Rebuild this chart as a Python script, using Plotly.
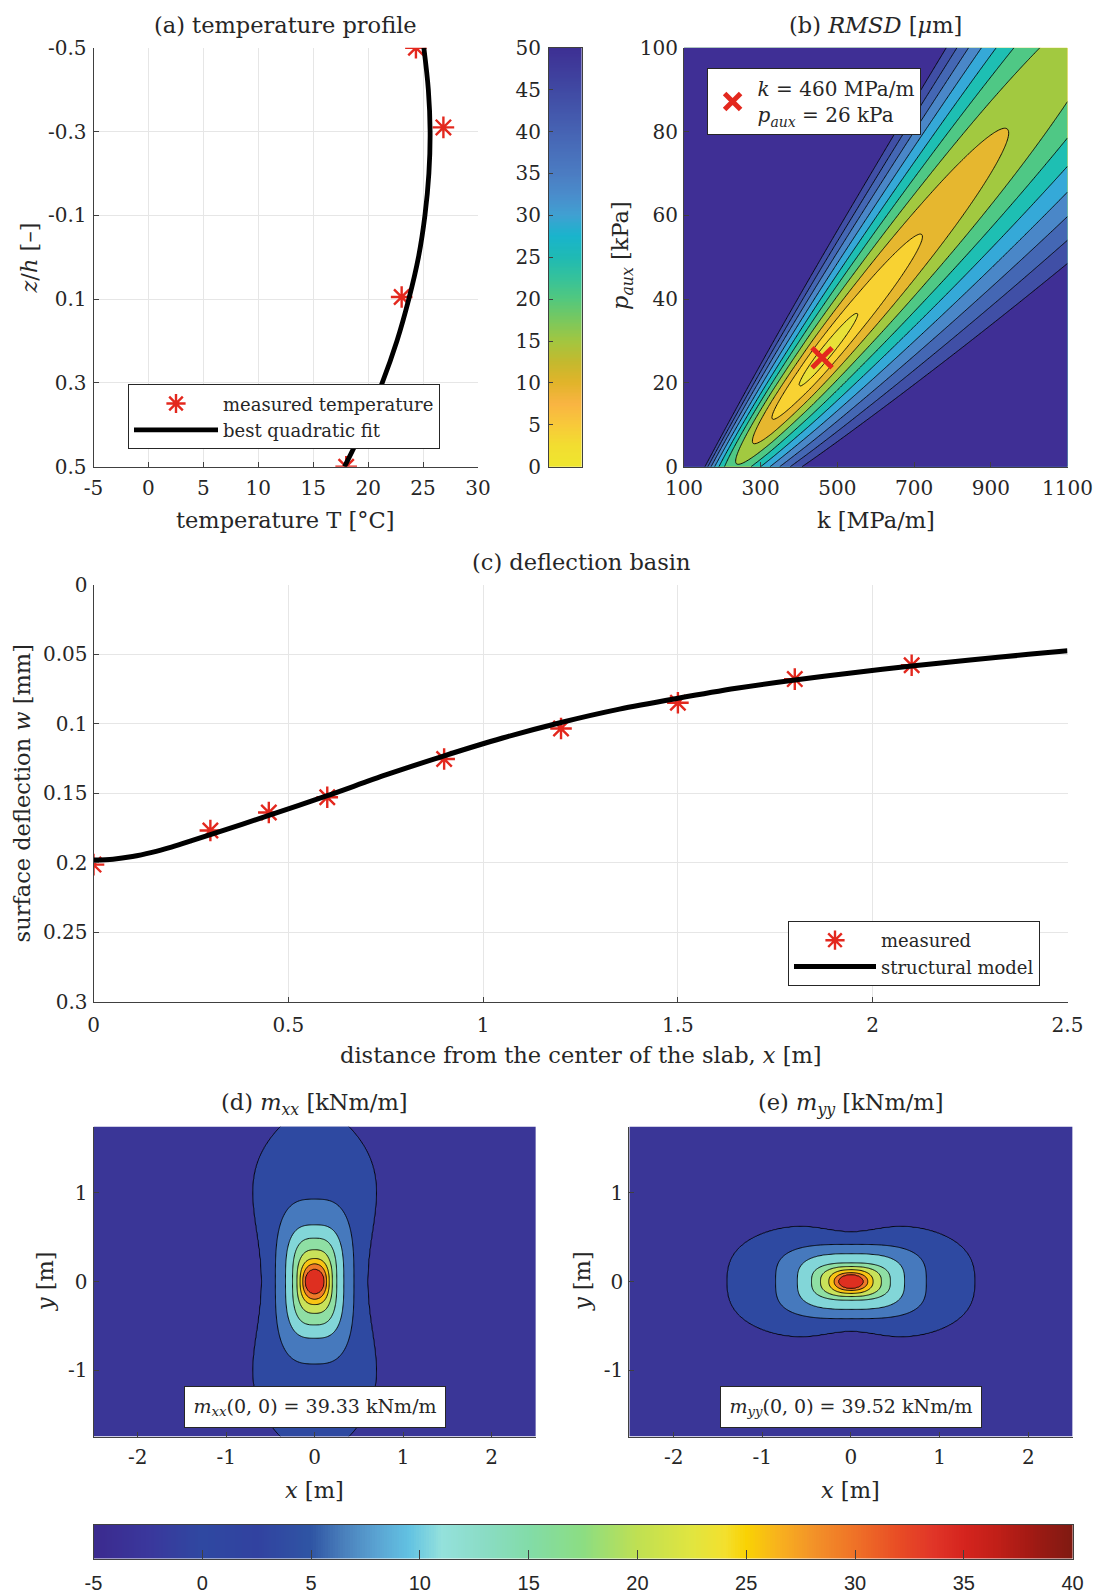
import numpy as np
import plotly.graph_objects as go

W, H = 1094, 1594
def px(x): return x / W
def py(y): return 1 - y / H

# ---------------- data ----------------
# (a) temperature profile
temp_meas_T = [24.35, 26.85, 23.05, 18.0]
temp_meas_z = [-0.5, -0.31, 0.095, 0.5]
temp_fit_z = [-0.5, -0.4, -0.3, -0.2, -0.1, 0.0, 0.1, 0.2, 0.3, 0.4, 0.5]
temp_fit_T = [25.07, 25.48, 25.64, 25.53, 25.17, 24.58, 23.70, 22.62, 21.28, 19.70, 17.85]

# (b) RMSD landscape, described by the geometry
rmsd_focus_k, rmsd_focus_p = -50.0, -30.0        # point the contour rays radiate from
rmsd_valley_slope = 0.11                         # slope of the valley ray
rmsd_best_k, rmsd_best_p = 460.0, 26.0
rmsd_long_s = [-0.441, -0.297, -0.125, 0.0, 0.1675, 0.4146, 0.6703]   # log-distance along valley
rmsd_long_v = [14.87, 9.80, 4.58, 0.0, 4.58, 9.80, 14.87]
rmsd_trans_left, rmsd_trans_right = 1060.0, 1120.0
rmsd_floor = 2.0
rmsd_lev_start, rmsd_lev_end, rmsd_lev_step = 5, 50, 5

# (c) deflection basin
defl_meas_x = [0, 0.3, 0.45, 0.6, 0.9, 1.2, 1.5, 1.8, 2.1]
defl_meas_w = [0.2015, 0.177, 0.164, 0.153, 0.1255, 0.1035, 0.085, 0.068, 0.058]
defl_model_x = [0, 0.05, 0.1, 0.15, 0.2, 0.25, 0.3, 0.45, 0.6, 0.75, 0.9, 1.05, 1.2, 1.35,
                1.5, 1.65, 1.8, 1.95, 2.1, 2.25, 2.4, 2.5]
defl_model_w = [0.1982, 0.1976, 0.1957, 0.1927, 0.1889, 0.1845, 0.1799, 0.1661, 0.1519, 0.1370,
                0.1232, 0.1104, 0.0992, 0.0896, 0.0818, 0.0746, 0.0686, 0.0634, 0.0586,
                0.0543, 0.0502, 0.0476]

# (d), (e) bending moments: contour levels and semi-axes of each contour
mom_levels = [0, 5, 10, 15, 20, 25, 30, 35]
mxx_semi_x = [0.60, 0.445, 0.33, 0.25, 0.20, 0.165, 0.135, 0.11]
mxx_semi_y = [2.0, 0.93, 0.64, 0.49, 0.36, 0.26, 0.20, 0.14]
mxx_shape_n = [2.0, 3.0, 3.0, 2.9, 2.6, 2.4, 2.2, 2.0]
mxx_bulge = 0.456
mxx_peak = 39.33
myy_semi_x = [1.395, 0.85, 0.605, 0.445, 0.345, 0.25, 0.19, 0.14]
myy_semi_y = [0.56, 0.42, 0.315, 0.21, 0.17, 0.135, 0.10, 0.08]
myy_shape_n = [2.6, 3.2, 3.0, 2.8, 2.5, 2.3, 2.2, 2.0]
myy_bulge = 0.19
myy_peak = 39.52

# tick labels
a_xticks = [-5, 0, 5, 10, 15, 20, 25, 30]
a_yticks = [-0.5, -0.3, -0.1, 0.1, 0.3, 0.5]
cb1_ticks = [0, 5, 10, 15, 20, 25, 30, 35, 40, 45, 50]
b_xticks = [100, 300, 500, 700, 900, 1100]
b_yticks = [0, 20, 40, 60, 80, 100]
c_xticks = [0, 0.5, 1, 1.5, 2, 2.5]
c_yticks = [0, 0.05, 0.1, 0.15, 0.2, 0.25, 0.3]
de_xticks = [-2, -1, 0, 1, 2]
de_yticks = [-1, 0, 1]
cb2_ticks = [-5, 0, 5, 10, 15, 20, 25, 30, 35, 40]

# ---------------- styles ----------------
FONT = "DejaVu Serif"
SANS = "Liberation Sans"
TXT = "#262626"
AXC = "#404040"
GRID = "#e6e6e6"
RED = "#e3281e"

cmap_ab = [(0, "#efe62f"), (2.5, "#f2dd30"), (5, "#f8c93a"), (7.5, "#f9b442"), (10, "#e1b42a"),
           (12.5, "#c4b92e"), (15, "#a2c640"), (17.5, "#79c85e"), (20, "#52c87e"),
           (22.5, "#35c29b"), (25, "#1fbab4"), (27.5, "#19b4cc"), (30, "#40a0d2"),
           (32.5, "#4a8ccb"), (35, "#4b7cc2"), (40, "#4663b3"), (45, "#4049a3"), (50, "#3d2f93")]
cmap_de = [(-5, "#3b2a8e"), (-2.5, "#3a379c"), (0, "#2f48a1"), (2.5, "#3142a0"), (5, "#2f55a4"),
           (6.5, "#4a80bc"), (8, "#5aa3d2"), (9.5, "#62c2e2"), (11, "#94e1dc"), (13, "#8adcc4"),
           (15, "#82dca8"), (17.5, "#8cdd82"), (20, "#c0e052"), (22.5, "#e1e53f"), (24, "#f3e02e"),
           (25, "#f9d204"), (26.5, "#f8b11e"), (28, "#f39428"), (30, "#ef7127"), (32, "#e84c25"),
           (33.5, "#e13628"), (35, "#d5241e"), (36.5, "#c11f18"), (38, "#a31a14"), (40, "#7f1a12")]
bands_b = ["#e9e138", "#f8d232", "#e6b72f", "#a2c940", "#4fc885", "#1ebfb3",
           "#35a9d8", "#4a87c8", "#4467b4", "#404fa6", "#3f2f95"]
bands_de = ["#3a3697", "#2e49a1", "#4679bd", "#82d6d8", "#8fdfa4", "#c9e25a",
            "#f9c414", "#ef7a29", "#de2f20"]


def norm_scale(stops):
    lo, hi = stops[0][0], stops[-1][0]
    return [[(v - lo) / (hi - lo), c] for v, c in stops]


def discrete_scale(colors):
    n = len(colors)
    sc = []
    for i, c in enumerate(colors):
        sc.append([i / n, c])
        sc.append([(i + 1) / n, c])
    return sc


def interp_ext(x, xp, fp):
    y = np.interp(x, xp, fp)
    lo = x < xp[0]
    hi = x > xp[-1]
    y[lo] = fp[0] + (x[lo] - xp[0]) * (fp[1] - fp[0]) / (xp[1] - xp[0])
    y[hi] = fp[-1] + (x[hi] - xp[-1]) * (fp[-1] - fp[-2]) / (xp[-1] - xp[-2])
    return y


# ---------------- fields ----------------
k_grid = np.linspace(100, 1100, 251)
p_grid = np.linspace(0, 100, 251)
KK, PP = np.meshgrid(k_grid, p_grid)
dd = (PP - rmsd_focus_p) / (KK - rmsd_focus_k) - rmsd_valley_slope
ss = np.log((KK - rmsd_focus_k) / (rmsd_best_k - rmsd_focus_k))
lg = interp_ext(ss, rmsd_long_s, rmsd_long_v)
tt = np.where(dd > 0, rmsd_trans_left * dd, -rmsd_trans_right * dd)
rmsd = np.round(np.sqrt(tt ** 2 + lg ** 2 + rmsd_floor ** 2), 3)


def nested_field(radii, levels, peak):
    step = levels[1] - levels[0]
    Z = levels[0] - 2.5 * np.clip(radii[0] - 1, 0, 1)
    for i in range(len(levels) - 1):
        hk, hk1 = radii[i], radii[i + 1]
        t = (1 - hk) / np.maximum((1 - hk) + (hk1 - 1), 1e-9)
        Z = np.where(hk < 1, levels[i] + step * np.clip(t, 0, 1), Z)
    hl = radii[-1]
    Z = np.where(hl < 1, levels[-1] + (peak - levels[-1]) * (1 - hl), Z)
    return np.round(Z, 3)


def sradius(X, Y, a, b, n):
    return (np.abs(X / a) ** n + np.abs(Y / b) ** n) ** (1.0 / n)


xg = np.linspace(-2.5, 2.5, 401)
yg = np.linspace(-1.75, 1.75, 281)
XX, YY = np.meshgrid(xg, yg)

rad_d = []
for i in range(len(mom_levels)):
    a = mxx_semi_x[i]
    if i == 0:
        q = np.clip((YY / mxx_semi_y[0]) ** 2, 0, 1)
        a = a * (1 + mxx_bulge * 4 * q * (1 - q))
    rad_d.append(sradius(XX, YY, a, mxx_semi_y[i], mxx_shape_n[i]))
mxx = nested_field(rad_d, mom_levels, mxx_peak)

rad_e = []
for i in range(len(mom_levels)):
    b = myy_semi_y[i]
    if i == 0:
        b = b * (1 + myy_bulge * (1 - np.exp(-(XX / 0.45) ** 2)))
    rad_e.append(sradius(XX, YY, myy_semi_x[i], b, myy_shape_n[i]))
myy = nested_field(rad_e, mom_levels, myy_peak)

# ---------------- figure ----------------
fig = go.Figure()
star = dict(symbol="asterisk-open", size=18, color=RED, line=dict(width=2.4, color=RED))

# (a)
fig.add_trace(go.Scatter(x=temp_meas_T, y=temp_meas_z, mode="markers", name="measured temperature",
                         marker=star, xaxis="x", yaxis="y", legend="legend"))
fig.add_trace(go.Scatter(x=temp_fit_T, y=temp_fit_z, mode="lines", name="best quadratic fit",
                         line=dict(color="black", width=4.8, shape="spline"),
                         xaxis="x", yaxis="y", legend="legend"))

# colorbar (a/b)
cb1 = np.linspace(0, 50, 300)
fig.add_trace(go.Heatmap(z=cb1.reshape(-1, 1), x=[0], y=cb1, colorscale=norm_scale(cmap_ab),
                         zmin=0, zmax=50, showscale=False, xaxis="x2", yaxis="y2", hoverinfo="skip"))

# (b)
fig.add_trace(go.Contour(x=k_grid, y=p_grid, z=rmsd, xaxis="x3", yaxis="y3",
                         contours=dict(start=rmsd_lev_start, end=rmsd_lev_end, size=rmsd_lev_step,
                                       coloring="fill"),
                         line=dict(color="black", width=0.9),
                         colorscale=discrete_scale(bands_b), zmin=0, zmax=55, showscale=False,
                         hoverinfo="skip", showlegend=False))
fig.add_trace(go.Scatter(x=[rmsd_best_k], y=[rmsd_best_p], mode="markers",
                         name="<i>k</i> = 460 MPa/m<br><i>p</i><sub><i>aux</i></sub> = 26 kPa",
                         marker=dict(symbol="x-thin-open", size=20, color=RED, line=dict(width=5, color=RED)),
                         xaxis="x3", yaxis="y3", legend="legend2"))

# (c)
fig.add_trace(go.Scatter(x=defl_meas_x, y=defl_meas_w, mode="markers", name="measured",
                         marker=star, xaxis="x4", yaxis="y4", legend="legend3"))
fig.add_trace(go.Scatter(x=defl_model_x, y=defl_model_w, mode="lines", name="structural model",
                         line=dict(color="black", width=5, shape="spline", smoothing=0.8),
                         xaxis="x4", yaxis="y4", legend="legend3"))

# (d), (e)
for Z, xa, ya in [(mxx, "x5", "y5"), (myy, "x6", "y6")]:
    fig.add_trace(go.Contour(x=xg, y=yg, z=Z, xaxis=xa, yaxis=ya,
                             contours=dict(start=0, end=35, size=5, coloring="fill"),
                             line=dict(color="black", width=0.9),
                             colorscale=discrete_scale(bands_de), zmin=-5, zmax=40, showscale=False,
                             hoverinfo="skip", showlegend=False))

# bottom colorbar
cb2 = np.linspace(-5, 40, 400)
fig.add_trace(go.Heatmap(z=cb2.reshape(1, -1), x=cb2, y=[0], colorscale=norm_scale(cmap_de),
                         zmin=-5, zmax=40, showscale=False, xaxis="x7", yaxis="y7", hoverinfo="skip"))


def axis(domain, rng, ticks, anchor, grid=False, standoff=6, size=20, family=FONT, ticklen=5,
         mirror=False, labels=True):
    d = dict(domain=domain, range=rng, anchor=anchor, showgrid=grid, gridcolor=GRID, gridwidth=1,
             zeroline=False, showline=True, linecolor=AXC, linewidth=1, mirror=mirror,
             ticks="inside" if ticklen > 0 else "", ticklen=ticklen, tickcolor=AXC, tickwidth=1,
             tickfont=dict(family=family, size=size, color=TXT), showticklabels=labels,
             ticklabelstandoff=standoff, layer="above traces", automargin=False, fixedrange=True)
    if ticks:
        d["tickvals"] = ticks
        d["ticktext"] = ["%g" % t for t in ticks]
    else:
        d["showticklabels"] = False
        d["ticks"] = ""
    return d


ya = [py(466.7), py(47.8)]
lay = dict(
    width=W, height=H, margin=dict(l=0, r=0, t=0, b=0, autoexpand=False), autosize=False,
    paper_bgcolor="white", plot_bgcolor="white",
    font=dict(family=FONT, color=TXT),
    xaxis=axis([px(93.5), px(478)], [-5, 30], a_xticks, "y", grid=True, standoff=3),
    yaxis=axis(ya, [0.5, -0.5], a_yticks, "x", grid=True, standoff=2),
    xaxis2=axis([px(549), px(581.6)], [-0.5, 0.5], [], "y2", ticklen=0, mirror=True, labels=False),
    yaxis2=axis(ya, [0, 50], cb1_ticks, "x2", standoff=3, ticklen=4, mirror=True),
    xaxis3=axis([px(684), px(1067.5)], [100, 1100], b_xticks, "y3", standoff=3),
    yaxis3=axis(ya, [0, 100], b_yticks, "x3", standoff=1),
    xaxis4=axis([px(93.5), px(1067.5)], [0, 2.5], c_xticks, "y4", grid=True, standoff=5),
    yaxis4=axis([py(1001.5), py(584.6)], [0.3, 0], c_yticks, "x4", grid=True, standoff=1),
    xaxis5=axis([px(93.5), px(535.8)], [-2.5, 2.5], de_xticks, "y5", standoff=2),
    yaxis5=axis([py(1436.6), py(1126.5)], [-1.75, 1.75], de_yticks, "x5", standoff=1),
    xaxis6=axis([px(629.3), px(1072.6)], [-2.5, 2.5], de_xticks, "y6", standoff=2),
    yaxis6=axis([py(1436.6), py(1126.5)], [-1.75, 1.75], de_yticks, "x6", standoff=1),
    xaxis7=axis([px(93.5), px(1072.6)], [-5, 40], cb2_ticks, "y7", standoff=6, family=SANS,
                ticklen=9, mirror=True),
    yaxis7=axis([py(1558.6), py(1525)], [-0.5, 0.5], [], "x7", ticklen=0, mirror=True, labels=False),
    legend=dict(x=px(128), y=py(384.3), xanchor="left", yanchor="top", bgcolor="white",
                bordercolor="#262626", borderwidth=1, font=dict(family=FONT, size=18, color=TXT),
                itemwidth=84, tracegroupgap=0),
    legend2=dict(x=px(706.6), y=py(68.1), xanchor="left", yanchor="top", bgcolor="white",
                 bordercolor="#262626", borderwidth=1, font=dict(family=FONT, size=20, color=TXT),
                 itemwidth=40),
    legend3=dict(x=px(788), y=py(921), xanchor="left", yanchor="top", bgcolor="white",
                 bordercolor="#262626", borderwidth=1, font=dict(family=FONT, size=18, color=TXT),
                 itemwidth=82, tracegroupgap=0),
)
fig.update_layout(**lay)

ann = []
def text(x, y, s, size=22.5, angle=0, **kw):
    d = dict(x=px(x), y=py(y), xref="paper", yref="paper", text=s, showarrow=False,
             xanchor="center", yanchor="middle", textangle=angle,
             font=dict(family=FONT, size=size, color=TXT))
    d.update(kw)
    ann.append(d)

text(285.8, 25.4, "(a) temperature profile")
text(875.8, 25.4, "(b) <i>RMSD</i> [<i>μ</i>m]")
text(580.5, 562.2, "(c) deflection basin")
text(314.6, 1104.1, "(d) <i>m</i><sub><i>xx</i></sub> [kNm/m]")
text(850.9, 1104.1, "(e) <i>m</i><sub><i>yy</i></sub> [kNm/m]")
text(285.8, 519.6, "temperature T [°C]")
text(28.5, 258, "<i>z</i>/<i>h</i> [–]", angle=-90)
text(875.8, 519.6, "k [MPa/m]")
text(622, 256, "<i>p</i><sub><i>aux</i></sub> [kPa]", angle=-90)
text(580.5, 1055, "distance from the center of the slab, <i>x</i> [m]")
text(22.4, 793, "surface deflection <i>w</i> [mm]", angle=-90)
text(314.6, 1489.5, "<i>x</i> [m]")
text(44.7, 1281.5, "<i>y</i> [m]", angle=-90)
text(850.9, 1489.5, "<i>x</i> [m]")
text(581.6, 1281.5, "<i>y</i> [m]", angle=-90)
text(314.6, 1407, "<i>m</i><sub><i>xx</i></sub>(0, 0) = 39.33 kNm/m", size=19,
     bgcolor="white", bordercolor="#262626", borderwidth=1, borderpad=6, width=248, height=28)
text(850.9, 1407, "<i>m</i><sub><i>yy</i></sub>(0, 0) = 39.52 kNm/m", size=19,
     bgcolor="white", bordercolor="#262626", borderwidth=1, borderpad=6, width=248, height=28)
fig.update_layout(annotations=ann)

fig.write_html("out.html")
